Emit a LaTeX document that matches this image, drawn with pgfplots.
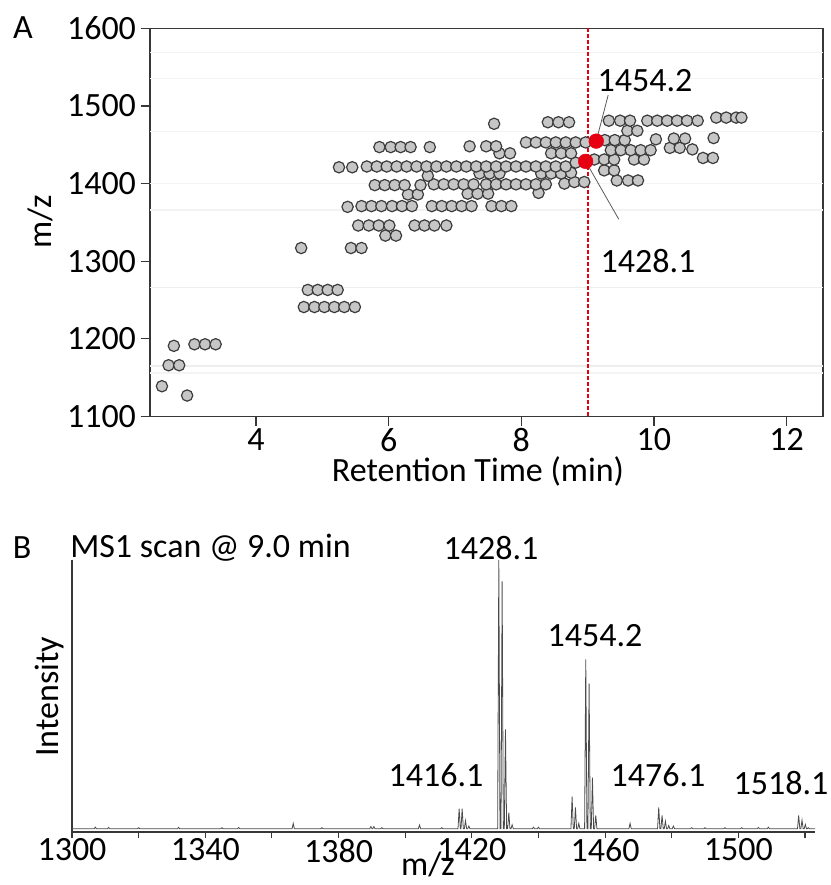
\documentclass[border=0pt]{standalone}
\usepackage{fontspec}
\setmainfont{Carlito}
\usepackage{pgfplots}
\pgfplotsset{compat=1.18}
\definecolor{mkred}{RGB}{230,0,18}
\definecolor{axc}{RGB}{55,55,55}
\definecolor{dotfill}{RGB}{198,198,198}
\definecolor{dotedge}{RGB}{60,60,60}
\definecolor{specc}{RGB}{75,75,75}
\newcommand{\bigf}{\fontsize{25.5}{30}\selectfont}
\begin{document}
\begin{tikzpicture}[x=0.75pt,y=0.75pt]
\path[use as bounding box] (0,0) rectangle (831,885);
% ---------------- Panel A ----------------
\begin{axis}[
  at={(112.5pt,351.375pt)}, anchor=south west,
  width=504.75pt, height=291.15pt, scale only axis,
  xmin=2.4, xmax=12.55, ymin=1100, ymax=1600,
  xtick={4,6,8,10,12}, ytick={1100,1200,...,1600},
  tick align=outside, tick pos=left,
  major tick length=7pt,
  axis line style={draw=axc, line width=0.9pt},
  tick style={draw=axc, line width=0.9pt},
  tick label style={font=\bigf},
  xticklabel style={inner sep=1pt, yshift=-1pt},
  /pgf/number format/1000 sep={},
  /pgf/number format/assume math mode=true,
]
% faint background streaks
\addplot[color=gray!10, line width=0.8pt] coordinates {(2.4,1569)(12.55,1569)};
\addplot[color=gray!9, line width=0.8pt] coordinates {(2.4,1535)(12.55,1535)};
\addplot[color=gray!10, line width=0.8pt] coordinates {(2.4,1467)(12.55,1467)};
\addplot[color=gray!9, line width=0.8pt] coordinates {(2.4,1400)(12.55,1400)};
\addplot[color=gray!10, line width=0.8pt] coordinates {(2.4,1366)(12.55,1366)};
\addplot[color=gray!13, line width=0.8pt] coordinates {(2.4,1266)(12.55,1266)};
\addplot[color=gray!13, line width=0.8pt] coordinates {(2.4,1165)(12.55,1165)};
\addplot[color=gray!9, line width=0.8pt] coordinates {(2.4,1156)(12.55,1156)};
% grey features
\addplot[only marks, mark=*, mark size=4.25pt,
  mark options={fill=dotfill, draw=dotedge, line width=0.9pt}] coordinates {
(2.58,1139) (2.96,1127) (2.68,1166) (2.84,1166) (2.76,1191) (3.07,1193) (3.23,1193) (3.39,1193)
(4.72,1241) (4.88,1241) (5.03,1241) (5.18,1241) (5.33,1241) (5.49,1241)
(4.78,1263) (4.93,1263) (5.08,1263) (5.23,1263)
(4.68,1317) (5.43,1317) (5.59,1317)
(5.95,1333) (6.11,1333)
(5.54,1346) (5.70,1346) (5.85,1346) (6.01,1346) (6.39,1346) (6.54,1346) (6.69,1346) (6.87,1346)
(5.38,1370) (5.59,1371) (5.74,1371) (5.89,1371) (6.05,1371) (6.20,1371) (6.35,1371)
(6.65,1371) (6.80,1371) (6.95,1371) (7.10,1371) (7.25,1371) (7.55,1371) (7.70,1371) (7.85,1371)
(6.29,1386) (6.44,1386) (7.19,1387) (7.34,1387) (7.50,1387) (8.26,1388)
(5.79,1398) (5.94,1398) (6.09,1398) (6.24,1398) (6.48,1398) (6.68,1399) (6.83,1399) (6.98,1399)
(7.13,1399) (7.28,1399) (7.47,1399) (7.62,1399) (7.77,1399) (7.92,1399) (8.07,1399) (8.22,1399)
(8.37,1399) (8.65,1400) (8.80,1402) (8.95,1402)
(9.44,1404) (9.61,1404) (9.76,1404)
(6.59,1410)
(7.37,1413) (7.52,1413) (7.67,1413) (8.30,1413) (8.45,1413) (8.60,1413) (8.75,1414)
(9.25,1417) (9.40,1417)
(5.25,1421) (5.45,1421) (5.67,1422) (5.82,1422) (5.97,1422) (6.12,1422) (6.27,1422) (6.42,1422)
(6.57,1422) (6.72,1422) (6.87,1422) (7.02,1422) (7.17,1422) (7.32,1422) (7.47,1422) (7.62,1422)
(7.77,1422) (7.92,1422) (8.07,1422) (8.22,1422) (8.37,1422) (8.52,1422) (8.67,1422)
(8.82,1427)
(9.10,1431) (9.25,1431) (9.40,1431) (9.70,1431) (9.85,1431) (10.74,1433) (10.89,1433)
(7.67,1439) (7.83,1439) (8.45,1439) (8.60,1439) (8.75,1439)
(9.35,1443) (9.50,1443) (9.65,1443) (9.80,1443) (9.95,1443) (10.24,1446) (10.39,1446) (10.58,1444)
(5.86,1447) (6.03,1447) (6.18,1447) (6.33,1447) (6.62,1447) (7.22,1448) (7.47,1448) (7.62,1448)
(8.07,1453) (8.22,1453) (8.37,1453) (8.52,1453) (8.67,1453) (8.82,1453) (8.97,1453)
(9.26,1456) (9.41,1456) (9.56,1456) (10.03,1457) (10.30,1458) (10.47,1458) (10.90,1458.6)
(9.60,1468) (9.75,1468)
(7.59,1477)
(8.40,1479) (8.56,1479) (8.72,1479)
(9.32,1481) (9.49,1481) (9.64,1481) (9.90,1481) (10.05,1481) (10.20,1481) (10.35,1481) (10.50,1481) (10.66,1481)
(10.94,1485) (11.09,1485) (11.24,1485) (11.32,1485)
};
% scan line
\addplot[color=mkred, line width=1.4pt, dash pattern=on 3pt off 1.5pt] coordinates {(9.0,1100)(9.0,1600)};
% selected features
\addplot[only marks, mark=*, mark size=5.5pt, mark options={fill=mkred, draw=mkred}] coordinates {
(9.13,1454.7) (8.97,1428.6)
};
\draw[black!65, line width=0.6pt] (axis cs:9.13,1454.7) -- (axis cs:9.31,1514);
\draw[black!65, line width=0.6pt] (axis cs:8.97,1428.6) -- (axis cs:9.47,1354);
\end{axis}
\node[inner sep=0pt] at (23,857) {\bigf A};
\node[rotate=90, inner sep=0pt] at (40,663) {\bigf m/z};
\node[inner sep=0pt] at (478,414) {\bigf Retention Time (min)};
\node[inner sep=0pt] at (645,804) {\bigf 1454.2};
\node[inner sep=0pt] at (648,624) {\bigf 1428.1};
% ---------------- Panel B ----------------
\begin{axis}[
  at={(54pt,39.75pt)}, anchor=south west,
  width=557.25pt, height=204pt, scale only axis,
  xmin=1300, xmax=1523, ymin=-0.012, ymax=1.0,
  axis x line*=bottom, axis y line*=left,
  axis line style={draw=axc, line width=0.9pt, -},
  ytick=\empty,
  xtick={1300,1340,...,1500},
  minor xtick={1320,1360,...,1520},
  tick align=outside,
  major tick length=4.5pt, minor tick length=4.5pt,
  tick style={draw=axc, line width=0.8pt},
  minor tick style={draw=axc, line width=0.8pt},
  tick label style={font=\bigf},
  xticklabel style={inner sep=0.5pt},
  /pgf/number format/1000 sep={},
  /pgf/number format/assume math mode=true,
]
\addplot[color=specc, line width=0.6pt] coordinates {
(1300,0)
(1306.65,0)(1307,0.006)(1307.35,0)
(1310.65,0)(1311,0.005)(1311.35,0)
(1319.65,0)(1320,0.004)(1320.35,0)
(1331.65,0)(1332,0.005)(1332.35,0)
(1344.65,0)(1345,0.004)(1345.35,0)
(1349.65,0)(1350,0.005)(1350.35,0)
(1366.05,0)(1366.4,0.02)(1366.75,0)
(1374.65,0)(1375,0.004)(1375.35,0)
(1389.35,0)(1389.7,0.008)(1390.05,0)(1390.25,0)(1390.6,0.008)(1390.95,0)
(1392.65,0)(1393,0.004)(1393.35,0)
(1403.95,0)(1404.3,0.014)(1404.65,0)
(1410.65,0)(1411,0.004)(1411.35,0)
(1415.85,0)(1416.2,0.075)(1416.55,0)
(1416.75,0)(1417.1,0.075)(1417.45,0)
(1417.75,0)(1418.1,0.03)(1418.45,0)
(1418.75,0)(1419.1,0.01)(1419.45,0)
(1427.75,0)(1428.1,1.0)(1428.45,0)
(1428.75,0)(1429.1,0.92)(1429.45,0)
(1429.75,0)(1430.1,0.37)(1430.45,0)
(1430.75,0)(1431.1,0.06)(1431.45,0)
(1431.75,0)(1432.1,0.015)(1432.45,0)
(1438.15,0)(1438.5,0.006)(1438.85,0)
(1439.65,0)(1440,0.006)(1440.35,0)
(1449.75,0)(1450.1,0.12)(1450.45,0)
(1450.75,0)(1451.1,0.08)(1451.45,0)
(1451.75,0)(1452.1,0.02)(1452.45,0)
(1453.85,0)(1454.2,0.63)(1454.55,0)
(1454.85,0)(1455.2,0.54)(1455.55,0)
(1455.85,0)(1456.2,0.19)(1456.55,0)
(1456.85,0)(1457.2,0.05)(1457.55,0)
(1467.15,0)(1467.5,0.02)(1467.85,0)
(1475.75,0)(1476.1,0.08)(1476.45,0)
(1476.75,0)(1477.1,0.05)(1477.45,0)
(1477.75,0)(1478.1,0.028)(1478.45,0)
(1478.75,0)(1479.1,0.012)(1479.45,0)
(1480.15,0)(1480.5,0.01)(1480.85,0)
(1485.65,0)(1486,0.004)(1486.35,0)
(1489.65,0)(1490,0.004)(1490.35,0)
(1495.65,0)(1496,0.004)(1496.35,0)
(1500.65,0)(1501,0.004)(1501.35,0)
(1505.65,0)(1506,0.005)(1506.35,0)
(1508.65,0)(1509,0.006)(1509.35,0)
(1517.75,0)(1518.1,0.05)(1518.45,0)
(1518.75,0)(1519.1,0.032)(1519.45,0)
(1519.75,0)(1520.1,0.016)(1520.45,0)
(1520.65,0)(1521,0.004)(1521.35,0)
(1523,0)
};
\end{axis}
\node[inner sep=0pt] at (22,337) {\bigf B};
\node[anchor=west, inner sep=0pt] at (70,337) {\bigf MS1 scan @ 9.0 min};
\node[rotate=90, inner sep=0pt] at (50,188) {\bigf Intensity};
\node[anchor=base, inner sep=0pt] at (428,9) {\bigf m/z};
\node[inner sep=0pt] at (491,337) {\bigf 1428.1};
\node[inner sep=0pt] at (595,249) {\bigf 1454.2};
\node[inner sep=0pt] at (436,110) {\bigf 1416.1};
\node[inner sep=0pt] at (658,110) {\bigf 1476.1};
\node[inner sep=0pt] at (781,102) {\bigf 1518.1};
\end{tikzpicture}
\end{document}
